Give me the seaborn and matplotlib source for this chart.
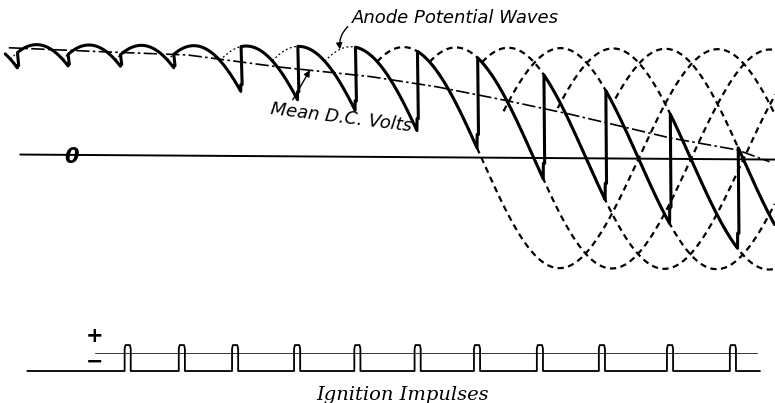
import numpy as np
import pandas as pd
import seaborn as sns
import matplotlib.pyplot as plt
from matplotlib.transforms import Affine2D

# six-phase anode waves, electrical degrees, crest value = 1.0
phase_peak_deg = [-60, 0, 60, 120, 180, 240, 300, 360, 420, 480, 540, 600, 660, 720, 780]
# ignition points where the output jumps to the next anode
fire_deg = [-22, 36, 96, 157, 234, 299, 365, 436, 505, 581, 652, 726, 804]
# later anode waves drawn dashed from here to the right edge
late_wave_peak = [420, 480, 540, 600, 660, 720]
late_wave_from = [390, 450, 510, 535, 597, 663]
# mean d.c. volts (dash-dot line)
mean_deg = [-32, 73, 173, 279, 382, 459, 535, 611, 726, 803, 840]
mean_volts = [0.97, 0.94, 0.915, 0.81, 0.73, 0.64, 0.525, 0.40, 0.19, 0.085, -0.02]
# ignition impulses (bottom trace)
impulse_deg = [105, 167, 228, 299, 368, 437, 505, 577, 648, 726, 798]
impulse_low, impulse_high = -1.0, 0.44

x_lo, x_hi = -41.2, 846.2
solid_start, zero_start = -36, -18
train_start, train_end = -10, 829
ref_start, ref_end = 68, 826


def wave(theta, peak):
    return np.cos(np.deg2rad(np.asarray(theta) - peak))


# output voltage: follows one anode between two ignitions, then jumps
xs, ys = [], []
bounds = [solid_start] + fire_deg + [x_hi]
for i in range(len(bounds) - 1):
    a, b = bounds[i], bounds[i + 1]
    pk = phase_peak_deg[i]
    t = np.linspace(a, b, 40)
    xs += list(t)
    ys += list(wave(t, pk))
    if i < len(bounds) - 2:
        yb = wave(b, pk)
        yt = wave(b, phase_peak_deg[i + 1])
        ym = yb + 0.15 * (yt - yb)
        xs += [b, b + 1.5]
        ys += [ym, ym]
solid = pd.DataFrame({"deg": xs, "volts": ys})

# thin dotted caps of the early waves (commutation point to ignition)
rows = []
for k, f in enumerate(fire_deg[:7]):
    pk = phase_peak_deg[k + 1]
    t = np.linspace(pk - 30, f, 20)
    rows.append(pd.DataFrame({"deg": t, "volts": wave(t, pk), "w": k}))
early = pd.concat(rows)

rows = []
for pk, a in zip(late_wave_peak, late_wave_from):
    t = np.linspace(a, x_hi, 300)
    rows.append(pd.DataFrame({"deg": t, "volts": wave(t, pk), "w": pk}))
late = pd.concat(rows)

mean = pd.DataFrame({"deg": mean_deg, "volts": mean_volts})
zero = pd.DataFrame({"deg": [zero_start, x_hi], "volts": [0, 0]})

# ignition impulse train
px, py = [train_start], [impulse_low]
for c in impulse_deg:
    px += [c - 3.5, c - 3.5, c - 2.5, c + 2.5, c + 3.5, c + 3.5]
    py += [impulse_low, impulse_high - 0.2, impulse_high, impulse_high, impulse_high - 0.2, impulse_low]
px.append(train_end)
py.append(impulse_low)
train = pd.DataFrame({"deg": px, "v": py})
ref = pd.DataFrame({"deg": [ref_start, ref_end], "v": [0, 0]})

sns.set_theme(style="white")
plt.rcParams["font.family"] = ["DejaVu Sans"]
plt.rcParams["text.color"] = "black"

fig = plt.figure(figsize=(7.75, 4.03), dpi=100)
ax = fig.add_axes([0, 0, 1, 1])
ax2 = fig.add_axes([0, 23 / 403, 1, 50 / 403])

sns.lineplot(data=zero, x="deg", y="volts", color="black", lw=1.4, ax=ax)
sns.lineplot(data=mean, x="deg", y="volts", color="black", lw=1.2,
             linestyle=(0, (8, 2, 1.5, 2)), ax=ax)
sns.lineplot(data=early, x="deg", y="volts", units="w", estimator=None, sort=False,
             color="black", lw=0.9, linestyle=(0, (1.5, 2)), ax=ax)
sns.lineplot(data=late, x="deg", y="volts", units="w", estimator=None, sort=False,
             color="black", lw=1.6, linestyle=(0, (2.8, 2)), ax=ax)
sns.lineplot(data=solid, x="deg", y="volts", estimator=None, sort=False,
             color="black", lw=2.2, ax=ax)

# the drawing sits slightly tilted on the page
rot = Affine2D().rotate_deg_around(390, 246, -0.38)
for ln in ax.lines:
    ln.set_transform(ax.transData + rot)

ax.set_xlim(x_lo, x_hi)
ax.set_ylim(-2.236, 1.427)
ax.axis("off")

ax.text(41, 0.0, "0", fontsize=15, style="italic", fontweight="bold",
        ha="center", va="center", color="black")
ax.annotate("Anode Potential Waves", xy=(348, wave(348, phase_peak_deg[7])), xytext=(362, 1.265),
            fontsize=13, style="italic", ha="left", va="center", color="black",
            arrowprops=dict(arrowstyle="-|>", color="black", lw=1.0, mutation_scale=9,
                            connectionstyle="arc3,rad=0.3", relpos=(0, 0.2),
                            shrinkA=1, shrinkB=0))
ax.text(349, 0.355, "Mean D.C. Volts", fontsize=13, style="italic", color="black",
        rotation=-7, ha="center", va="center", rotation_mode="anchor")
ax.annotate("", xy=(313.7, 0.79), xytext=(294, 0.52),
            arrowprops=dict(arrowstyle="-|>", color="black", lw=1.0, mutation_scale=9,
                            shrinkA=0, shrinkB=0))

sns.lineplot(data=ref, x="deg", y="v", color="#333333", lw=0.7, ax=ax2)
sns.lineplot(data=train, x="deg", y="v", estimator=None, sort=False,
             color="black", lw=1.3, ax=ax2)
ax2.set_xlim(x_lo, x_hi)
ax2.set_ylim(-1.5, 1.278)
ax2.axis("off")
ax2.text(67.6, 0.94, "+", fontsize=15, fontweight="bold", ha="center", va="center", color="black")
ax2.text(67.6, -0.5, "\u2212", fontsize=15, fontweight="bold", ha="center", va="center", color="black")
ax2.text(420, -2.33, "Ignition Impulses", family="DejaVu Serif", style="italic",
         fontsize=14, ha="center", va="center", color="black")

fig.savefig("out.png", dpi=100)
